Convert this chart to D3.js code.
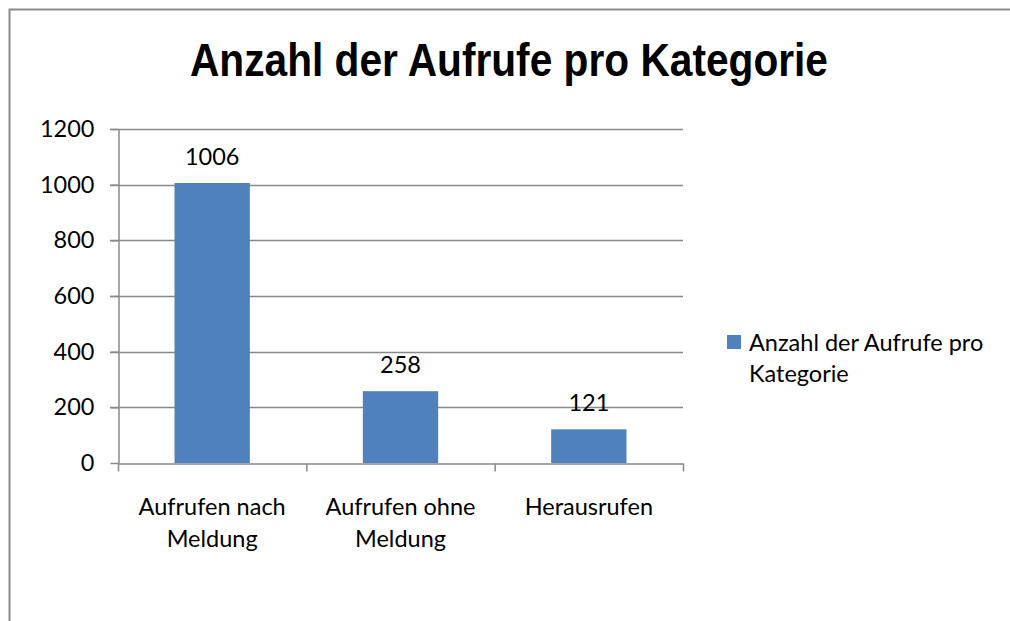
<!DOCTYPE html>
<html>
<head>
<meta charset="utf-8">
<script src="https://cdn.jsdelivr.net/npm/d3@7"></script>
<style>
  html, body { margin: 0; padding: 0; background: #fff; }
  svg { display: block; }
</style>
</head>
<body>
<svg id="chart" width="1010" height="621"></svg>
<script>
// Chart data
const categories = [["Aufrufen nach", "Meldung"], ["Aufrufen ohne", "Meldung"], ["Herausrufen"]];
const values = [1006, 258, 121];
const yTicks = [0, 200, 400, 600, 800, 1000, 1200];
const seriesName = ["Anzahl der Aufrufe pro", "Kategorie"];
const title = "Anzahl der Aufrufe pro Kategorie";

const svg = d3.select("#chart");
const W = 1010, H = 621;
const font = "Lato, 'Open Sans', sans-serif";
const fs = 23.5;
const barColor = "#4F81BD";
const lineColor = "#898989";

// Outer frame (left and top edges visible)
svg.append("rect").attr("x", 0).attr("y", 0).attr("width", W).attr("height", H).attr("fill", "#fff");
svg.append("path")
  .attr("d", `M9.5,${H + 10} L9.5,9.5 L${W + 10},9.5`)
  .attr("fill", "none").attr("stroke", "#8c8c8c").attr("stroke-width", 2);

// Plot area
const plot = { left: 118, right: 683, top: 129, bottom: 463 };

const x = d3.scaleBand()
  .domain(d3.range(categories.length))
  .range([plot.left, plot.right])
  .paddingInner(0.6)
  .paddingOuter(0.3);

const y = d3.scaleLinear().domain([0, 1200]).range([plot.bottom, plot.top]);

// Horizontal gridlines
svg.append("g").selectAll("line").data(yTicks.filter(d => d > 0)).join("line")
  .attr("x1", plot.left - 8).attr("x2", plot.right)
  .attr("y1", d => Math.round(y(d)) + 0.5).attr("y2", d => Math.round(y(d)) + 0.5)
  .attr("stroke", lineColor).attr("stroke-width", 1.5);

// Y axis
const yAxis = d3.axisLeft(y).tickValues(yTicks).tickFormat(d3.format("d"))
  .tickSize(8).tickPadding(16).tickSizeOuter(0);
const gy = svg.append("g").attr("transform", `translate(${plot.left + 0.5},0)`).call(yAxis);
gy.select(".domain").attr("stroke", lineColor).attr("stroke-width", 1.5);
gy.selectAll(".tick line").attr("stroke", lineColor).attr("stroke-width", 1.5);
gy.selectAll(".tick text").attr("font-family", font).attr("font-size", fs).attr("fill", "#000");

// Bars
svg.append("g").selectAll("rect").data(values).join("rect")
  .attr("x", (d, i) => x(i))
  .attr("y", d => y(d))
  .attr("width", x.bandwidth())
  .attr("height", d => y(0) - y(d))
  .attr("fill", barColor);

// X axis line with category boundary ticks
const xb = d3.scaleLinear().domain([0, categories.length]).range([plot.left, plot.right]);
const xAxis = d3.axisBottom(xb).tickValues(d3.range(categories.length + 1)).tickSize(8).tickFormat("").tickSizeOuter(0);
const gx = svg.append("g").attr("transform", `translate(0,${Math.round(y(0)) + 0.5})`).call(xAxis);
gx.select(".domain").attr("stroke", lineColor).attr("stroke-width", 1.5);
gx.selectAll(".tick line").attr("stroke", lineColor).attr("stroke-width", 1.5);

// Category labels
const catG = svg.append("g");
categories.forEach((lines, i) => {
  const cx = x(i) + x.bandwidth() / 2;
  const t = catG.append("text")
    .attr("text-anchor", "middle")
    .attr("font-family", font).attr("font-size", fs).attr("fill", "#000");
  lines.forEach((ln, j) => {
    t.append("tspan").attr("x", cx).attr("y", 515 + j * 32).text(ln);
  });
});

// Value labels
svg.append("g").selectAll("text").data(values).join("text")
  .attr("x", (d, i) => x(i) + x.bandwidth() / 2)
  .attr("y", d => y(d) - 18)
  .attr("text-anchor", "middle")
  .attr("font-family", font).attr("font-size", fs).attr("fill", "#000")
  .text(d => d);

// Title
svg.append("text")
  .attr("x", 509).attr("y", 76)
  .attr("text-anchor", "middle")
  .attr("font-family", "'Liberation Sans Narrow', 'Arial Narrow', 'Liberation Sans', sans-serif")
  .attr("font-weight", "bold")
  .attr("font-size", 46)
  .attr("fill", "#000")
  .attr("textLength", 638)
  .attr("lengthAdjust", "spacingAndGlyphs")
  .text(title);

// Legend
const lg = svg.append("g");
lg.append("rect").attr("x", 727).attr("y", 335).attr("width", 14).attr("height", 14).attr("fill", barColor);
const lt = lg.append("text").attr("font-family", font).attr("font-size", fs).attr("fill", "#000");
seriesName.forEach((ln, j) => {
  lt.append("tspan").attr("x", 749).attr("y", 351 + j * 31).text(ln);
});
</script>
</body>
</html>
